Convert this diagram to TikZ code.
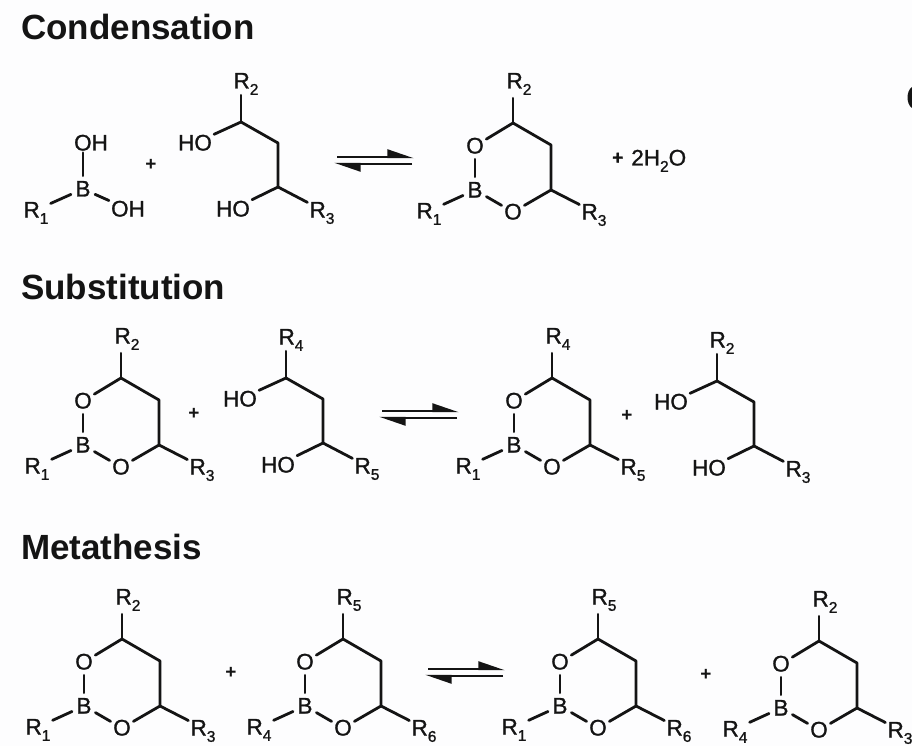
\documentclass[tikz,border=0pt]{standalone}
\usepackage{fontspec}
\setmainfont{Liberation Sans}
\newfontfamily\chemfont[FakeBold=1.2]{Liberation Sans}
\usetikzlibrary{arrows.meta}
\definecolor{ink}{HTML}{141414}
\definecolor{paper}{HTML}{FDFDFE}
\newcommand{\lowidx}[1]{\raisebox{-0.28em}{\fontsize{15.5}{15.5}\selectfont #1}}
\tikzstyle{atom} = [circle, inner sep=0pt, minimum size=26pt, text=ink, text height=15pt, text depth=0pt, font=\fontsize{22.5}{26}\chemfont]
\tikzstyle{group} = [inner sep=2pt, text=ink, text height=15pt, text depth=0pt, font=\fontsize{22.5}{26}\chemfont]
\tikzstyle{heading} = [anchor=base west, inner sep=0pt, text=ink, font=\fontsize{35}{40}\selectfont\bfseries]
\tikzstyle{plus} = [inner sep=0pt, text=ink, font=\fontsize{19}{19}\selectfont\bfseries]
\tikzstyle{bond} = [draw=ink, line width=2.8pt, line cap=round, line join=round]
\tikzstyle{half} = [draw=ink, line width=2.4pt, -{Triangle[harpoon,length=23pt,width=15pt]}]

% ring: name, B position, top / left / right groups
\newcommand{\boronate}[6]{
  \begin{scope}[shift={(#2,#3)}]
    \node[atom] (#1B) at (0,0) {B};
    \node[atom] (#1Oa) at (0,-44) {O};
    \node[atom] (#1Ob) at (38,22) {O};
    \coordinate (#1Ca) at (38,-67);
    \coordinate (#1Cb) at (76,-45);
    \coordinate (#1Cc) at (76,0);
    \node[group] (#1Rt) at (44,-109) {R\lowidx{#4}};
    \node[group] (#1Rl) at (-46,21) {R\lowidx{#5}};
    \node[group] (#1Rr) at (119,22) {R\lowidx{#6}};
  \end{scope}
  \begin{scope}[every path/.style=bond]
    \path (#1B) -- (#1Oa);
    \path (#1Oa) -- (#1Ca) -- (#1Cb) -- (#1Cc) -- (#1Ob);
    \path (#1Ob) -- (#1B);
    \path[shorten >=7.5pt] (#1Ca) -- (#1Ca |- #1Rt.south);
    \path (#1B) -- (#1Rl);
    \path (#1Cc) -- (#1Rr);
  \end{scope}
}
% diol: name, upper carbon, top / lower groups
\newcommand{\diol}[5]{
  \begin{scope}[shift={(#2,#3)}]
    \coordinate (#1Ca) at (0,0);
    \coordinate (#1Cb) at (37,21);
    \coordinate (#1Cc) at (37,65);
    \node[group] (#1Ha) at (-46,21) {HO};
    \node[group] (#1Hb) at (-8,87) {HO};
    \node[group] (#1Rt) at (5,-41) {R\lowidx{#4}};
    \node[group] (#1Rb) at (81,88) {R\lowidx{#5}};
  \end{scope}
  \begin{scope}[every path/.style=bond]
    \path (#1Ha) -- (#1Ca) -- (#1Cb) -- (#1Cc) -- (#1Hb);
    \path[shorten >=4.5pt] (#1Ca) -- (#1Ca |- #1Rt.south);
    \path (#1Cc) -- (#1Rb);
  \end{scope}
}
\newcommand{\equil}[3]{
  \coordinate (#1a) at (#2+3,#3);
  \coordinate (#1b) at (#2+80,#3);
  \coordinate (#1c) at (#2+78,#3+7);
  \coordinate (#1d) at (#2,#3+7);
  \draw[half] (#1a) -- (#1b);
  \draw[half] (#1c) -- (#1d);
}

\begin{document}
\begin{tikzpicture}[x=1pt,y=-1pt]
  \fill[paper] (0,0) rectangle (912,746);
  \useasboundingbox (0,0) rectangle (912,746);

  \node[heading] (condensation) at (21,40) {Condensation};
  \node[heading] (substitution) at (21,299) {Substitution};
  \node[heading] (metathesis) at (21,559) {Metathesis};

  % condensation
  \node[atom] (acidB) at (83,189) {B};
  \node[group] (acidOHa) at (91,143) {OH};
  \node[group] (acidOHb) at (128,209) {OH};
  \node[group] (acidR) at (36,210) {R\lowidx{1}};
  \begin{scope}[every path/.style=bond]
    \path (acidB) -- (acidB |- acidOHa.south);
    \path (acidB) -- (acidOHb);
    \path (acidB) -- (acidR);
  \end{scope}
  \node[plus] (plusA) at (151,165) {+};
  \diol{dA}{241}{122}{2}{3}
  \equil{eqA}{334}{157}
  \boronate{rA}{475}{190}{2}{1}{3}
  \node[group,anchor=west,inner sep=0pt] (water) at (612,158) {\raisebox{1.5pt}{\fontsize{19}{19}\selectfont\bfseries +}\hspace{8pt}2H\lowidx{2}O};

  % substitution
  \boronate{rB}{83}{445}{2}{1}{3}
  \node[plus] (plusB) at (194,414) {+};
  \diol{dB}{286}{378}{4}{5}
  \equil{eqB}{379}{411}
  \boronate{rC}{514}{445}{4}{1}{5}
  \node[plus] (plusC) at (627,416) {+};
  \diol{dC}{717}{381}{2}{3}

  % metathesis
  \boronate{rD}{84}{706}{2}{1}{3}
  \node[plus] (plusD) at (231,673) {+};
  \boronate{rE}{305}{706}{5}{4}{6}
  \equil{eqC}{425}{669}
  \boronate{rF}{560}{706}{5}{1}{6}
  \node[plus] (plusE) at (706,675) {+};
  \boronate{rG}{781}{708}{2}{4}{3}

  \fill[ink] (912,87) .. controls (906,91) and (906,104) .. (912,108) -- cycle;
\end{tikzpicture}
\end{document}
